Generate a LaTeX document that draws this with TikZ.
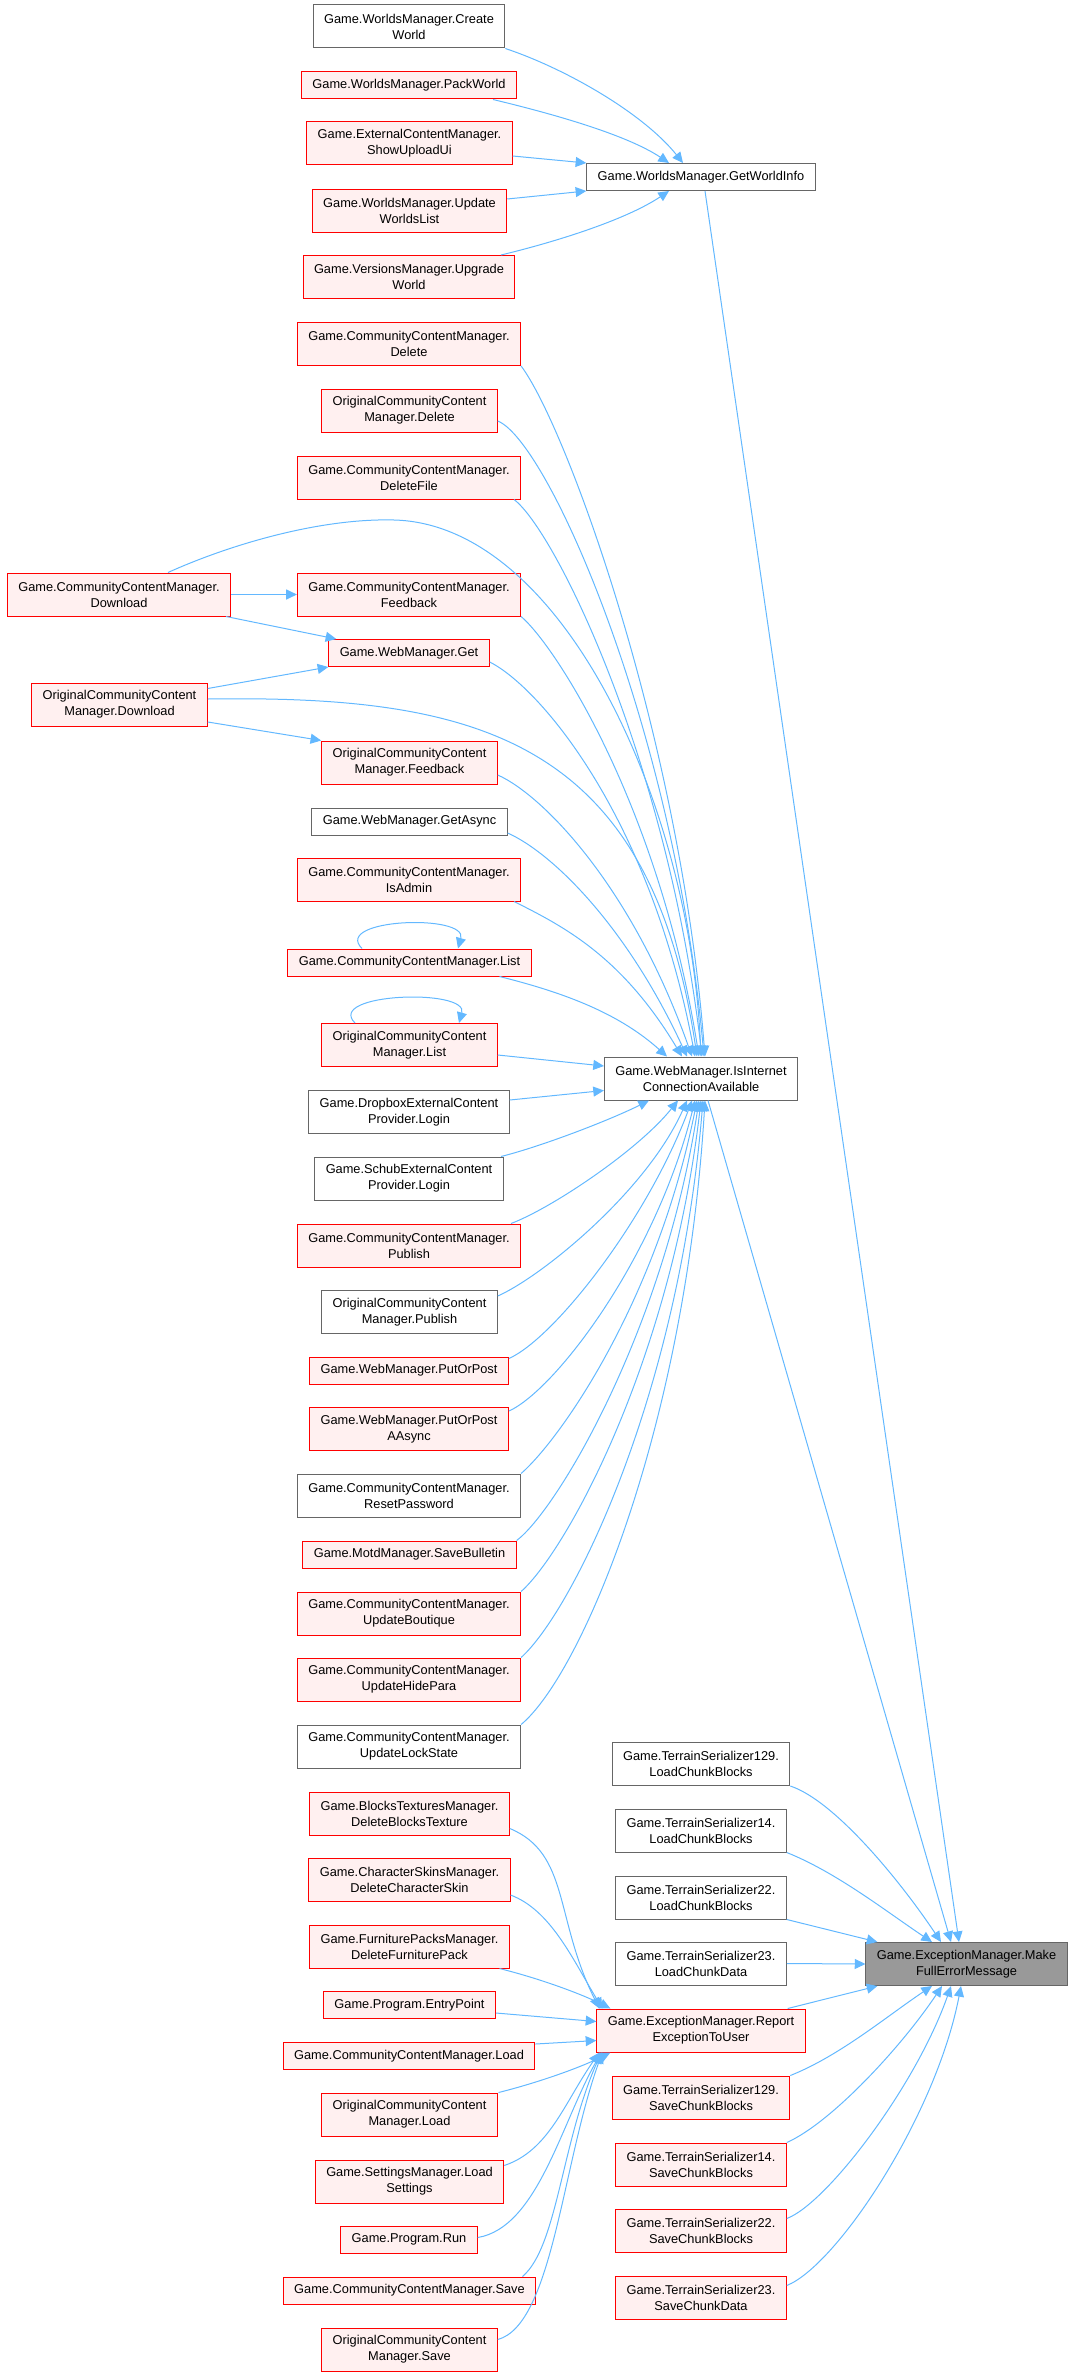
\documentclass[tikz,border=0pt]{standalone}
\usepackage{fontspec}
\setmainfont{Liberation Sans}
\usetikzlibrary{arrows.meta,calc}

\definecolor{edgeblue}{HTML}{63B8FF}
\definecolor{callerfill}{HTML}{FFF0F0}
\definecolor{framegray}{HTML}{666666}
\definecolor{focusgray}{HTML}{999999}

\begin{document}
\begin{tikzpicture}[x=0.75pt,y=-0.75pt,
    fnbox/.style={rectangle,draw,line width=0.75pt,align=center,
      font=\fontsize{9.6}{12}\selectfont,inner xsep=8.2pt,inner ysep=1pt,
      minimum height=20.25pt},
    fnplain/.style={fnbox,draw=framegray,fill=white},
    fnred/.style={fnbox,draw=red,fill=callerfill},
    fnfocus/.style={fnbox,draw=framegray,fill=focusgray},
    twoline/.style={minimum height=32.25pt},
    calls/.style={draw=edgeblue,line width=0.75pt,-{Triangle[length=8pt,width=7.5pt]}}]

    \useasboundingbox (0,0) rectangle (1074,2376);

    % Far left callers
    \node[fnred,twoline] (dl) at (119,594.5) {Game.CommunityContentManager.\\Download};
    \node[fnred,twoline] (odl) at (119.5,704.5) {OriginalCommunityContent\\Manager.Download};

    % Second column
    \node[fnplain,twoline] (cw) at (409,26.5) {Game.WorldsManager.Create\\World};
    \node[fnred] (pw) at (409,85.5) {Game.WorldsManager.PackWorld};
    \node[fnred,twoline] (su) at (409.5,143.5) {Game.ExternalContentManager.\\ShowUploadUi};
    \node[fnred,twoline] (uwl) at (409.5,210.5) {Game.WorldsManager.Update\\WorldsList};
    \node[fnred,twoline] (uw) at (409,277) {Game.VersionsManager.Upgrade\\World};
    \node[fnred,twoline] (del) at (409,344) {Game.CommunityContentManager.\\Delete};
    \node[fnred,twoline] (odel) at (409.5,410.5) {OriginalCommunityContent\\Manager.Delete};
    \node[fnred,twoline] (delf) at (409,477.5) {Game.CommunityContentManager.\\DeleteFile};
    \node[fnred,twoline] (fb) at (409,594.5) {Game.CommunityContentManager.\\Feedback};
    \node[fnred] (get) at (409,653) {Game.WebManager.Get};
    \node[fnred,twoline] (ofb) at (409.5,762.5) {OriginalCommunityContent\\Manager.Feedback};
    \node[fnplain] (ga) at (409.5,821.5) {Game.WebManager.GetAsync};
    \node[fnred,twoline] (adm) at (409,879.5) {Game.CommunityContentManager.\\IsAdmin};
    \node[fnred] (lst) at (409.5,962.5) {Game.CommunityContentManager.List};
    \node[fnred,twoline] (olst) at (409.5,1045) {OriginalCommunityContent\\Manager.List};
    \node[fnplain,twoline] (dbx) at (409,1112) {Game.DropboxExternalContent\\Provider.Login};
    \node[fnplain,twoline] (sch) at (409,1178.5) {Game.SchubExternalContent\\Provider.Login};
    \node[fnred,twoline] (pub) at (409,1245.5) {Game.CommunityContentManager.\\Publish};
    \node[fnplain,twoline] (opub) at (409.5,1312) {OriginalCommunityContent\\Manager.Publish};
    \node[fnred] (pop) at (409,1370.5) {Game.WebManager.PutOrPost};
    \node[fnred,twoline] (popa) at (409,1429) {Game.WebManager.PutOrPost\\AAsync};
    \node[fnplain,twoline] (rpw) at (409,1495.5) {Game.CommunityContentManager.\\ResetPassword};
    \node[fnred] (sb) at (409.5,1554.5) {Game.MotdManager.SaveBulletin};
    \node[fnred,twoline] (ub) at (409,1613.5) {Game.CommunityContentManager.\\UpdateBoutique};
    \node[fnred,twoline] (uhp) at (409,1679.5) {Game.CommunityContentManager.\\UpdateHidePara};
    \node[fnplain,twoline] (uls) at (409,1746.5) {Game.CommunityContentManager.\\UpdateLockState};
    \node[fnred,twoline] (dbt) at (409.5,1813.5) {Game.BlocksTexturesManager.\\DeleteBlocksTexture};
    \node[fnred,twoline] (dcs) at (409.5,1880) {Game.CharacterSkinsManager.\\DeleteCharacterSkin};
    \node[fnred,twoline] (dfp) at (409.5,1946.5) {Game.FurniturePacksManager.\\DeleteFurniturePack};
    \node[fnred] (ep) at (409.5,2005) {Game.Program.EntryPoint};
    \node[fnred] (ld) at (409,2056) {Game.CommunityContentManager.Load};
    \node[fnred,twoline] (old) at (409.5,2114.5) {OriginalCommunityContent\\Manager.Load};
    \node[fnred,twoline] (ls) at (409.5,2181.5) {Game.SettingsManager.Load\\Settings};
    \node[fnred] (run) at (409,2239.5) {Game.Program.Run};
    \node[fnred] (sv) at (409.5,2290.5) {Game.CommunityContentManager.Save};
    \node[fnred,twoline] (osv) at (409.5,2349.5) {OriginalCommunityContent\\Manager.Save};

    % Third column
    \node[fnplain] (gwi) at (701,177) {Game.WorldsManager.GetWorldInfo};
    \node[fnplain,twoline] (iica) at (701,1078.5) {Game.WebManager.IsInternet\\ConnectionAvailable};
    \node[fnplain,twoline] (t129l) at (701,1764) {Game.TerrainSerializer129.\\LoadChunkBlocks};
    \node[fnplain,twoline] (t14l) at (701,1830.5) {Game.TerrainSerializer14.\\LoadChunkBlocks};
    \node[fnplain,twoline] (t22l) at (701,1897.5) {Game.TerrainSerializer22.\\LoadChunkBlocks};
    \node[fnplain,twoline] (t23l) at (701,1963.5) {Game.TerrainSerializer23.\\LoadChunkData};
    \node[fnred,twoline] (rex) at (701,2030.5) {Game.ExceptionManager.Report\\ExceptionToUser};
    \node[fnred,twoline] (t129s) at (701,2097.5) {Game.TerrainSerializer129.\\SaveChunkBlocks};
    \node[fnred,twoline] (t14s) at (701,2164.5) {Game.TerrainSerializer14.\\SaveChunkBlocks};
    \node[fnred,twoline] (t22s) at (701,2230.5) {Game.TerrainSerializer22.\\SaveChunkBlocks};
    \node[fnred,twoline] (t23s) at (701,2297.5) {Game.TerrainSerializer23.\\SaveChunkData};

    % Focus node
    \node[fnfocus,twoline] (mfe) at (966.5,1964) {Game.ExceptionManager.Make\\FullErrorMessage};

    % Callers of GetWorldInfo
    \draw[calls] (cw.south east) .. controls +(60,20) and +(-40,-50) .. ($(gwi.north)+(-18,0)$);
    \draw[calls] ($(pw.south)+(84,0)$) .. controls +(50,12) and +(-45,-30) .. ($(gwi.north)+(-32,0)$);
    \draw[calls] ($(su.east)+(0,12.5)$) -- (gwi.north west);
    \draw[calls] ($(uwl.east)+(0,-11.5)$) -- (gwi.south west);
    \draw[calls] ($(uw.north)+(92,0)$) .. controls +(50,-12) and +(-45,30) .. ($(gwi.south)+(-32,0)$);

    % Download callers
    \draw[calls] (dl.east) -- (fb.west);
    \draw[calls] ($(dl.south)+(107,0)$) -- ($(get.north west)+(8,0)$);
    \draw[calls] ($(odl.east)+(0,-16)$) -- (get.south west);
    \draw[calls] ($(odl.east)+(0,17.5)$) -- (ofb.north west);

    % Recursive calls
    \draw[calls] ($(lst.north)+(-47.5,0)$) .. controls +(-30,-30) and +(10,-35) .. ($(lst.north)+(48.5,0)$);
    \draw[calls] ($(olst.north)+(-54.5,0)$) .. controls +(-30,-30) and +(10,-35) .. ($(olst.north)+(49.5,0)$);

    % Callers of IsInternetConnectionAvailable, from above
    \coordinate (dlpeak) at (394,520);
    \draw[calls] (del.south east) .. controls +(45,60) and +(-25,-320) .. ($(iica.north)+(4,0)$);
    \draw[calls] ($(odel.east)+(0,10.5)$) .. controls +(50,20) and +(-30,-330) .. ($(iica.north)+(3,0)$);
    \draw[calls] ($(delf.south)+(105,0)$) .. controls +(40,30) and +(-35,-300) .. ($(iica.north)+(1,0)$);
    \draw[calls] ($(dl.north)+(49,0)$) .. controls +(62,-28) and +(-74,-2) .. (dlpeak)
      .. controls +(166,4) and +(-11,-257) .. (iica.north);
    \draw[calls] (fb.south east) .. controls +(35,30) and +(-40,-250) .. ($(iica.north)+(-2,0)$);
    \draw[calls] ($(get.east)+(0,9)$) .. controls +(50,25) and +(-45,-240) .. ($(iica.north)+(-6,0)$);
    \draw[calls] ($(odl.east)+(0,-5.5)$) .. controls +(271,-4) and +(-47,-317) .. ($(iica.north)+(-4,0)$);
    \draw[calls] ($(ofb.east)+(0,12.5)$) .. controls +(45,20) and +(-60,-170) .. ($(iica.north)+(-9,0)$);
    \draw[calls] ($(ga.east)+(0,11.5)$) .. controls +(45,20) and +(-60,-130) .. ($(iica.north)+(-14,0)$);
    \draw[calls] ($(adm.south)+(105,0)$) .. controls +(50,25) and +(-60,-100) .. ($(iica.north)+(-19,0)$);
    \draw[calls] ($(lst.south)+(90,0)$) .. controls +(60,15) and +(-50,-45) .. ($(iica.north)+(-34,0)$);
    \draw[calls] ($(olst.east)+(0,10)$) -- ($(iica.west)+(0,-12.5)$);

    % Callers of IsInternetConnectionAvailable, from below
    \draw[calls] ($(dbx.east)+(0,-12)$) -- ($(iica.west)+(0,12)$);
    \draw[calls] ($(sch.north)+(92,0)$) .. controls +(40,-10) and +(-40,20) .. ($(iica.south)+(-52,0)$);
    \draw[calls] ($(pub.north)+(102,0)$) .. controls +(40,-15) and +(-40,50) .. ($(iica.south)+(-23,0)$);
    \draw[calls] ($(opub.east)+(0,-16)$) .. controls +(45,-20) and +(-40,90) .. ($(iica.south)+(-14,0)$);
    \draw[calls] ($(pop.east)+(0,-12)$) .. controls +(45,-20) and +(-45,120) .. ($(iica.south)+(-9,0)$);
    \draw[calls] ($(popa.east)+(0,-18)$) .. controls +(45,-20) and +(-40,160) .. ($(iica.south)+(-6,0)$);
    \draw[calls] (rpw.north east) .. controls +(40,-35) and +(-40,200) .. ($(iica.south)+(-4,0)$);
    \draw[calls] (sb.north east) .. controls +(40,-30) and +(-35,230) .. ($(iica.south)+(-2,0)$);
    \draw[calls] (ub.north east) .. controls +(45,-40) and +(-30,260) .. (iica.south);
    \draw[calls] (uhp.north east) .. controls +(50,-45) and +(-25,300) .. ($(iica.south)+(2,0)$);
    \draw[calls] (uls.north east) .. controls +(60,-50) and +(-20,330) .. ($(iica.south)+(4,0)$);

    % Callers of ReportExceptionToUser
    \draw[calls] ($(dbt.east)+(0,15)$) .. controls +(60,25) and +(-45,-90) .. ($(rex.north west)+(3,0)$);
    \draw[calls] ($(dcs.east)+(0,15)$) .. controls +(40,15) and +(-30,-50) .. ($(rex.north west)+(6,0)$);
    \draw[calls] ($(dfp.south)+(90,0)$) .. controls +(40,10) and +(-30,-15) .. ($(rex.north west)+(14,0)$);
    \draw[calls] ($(ep.east)+(0,8)$) -- ($(rex.west)+(0,-9)$);
    \draw[calls] ($(ld.east)+(0,-12)$) -- ($(rex.west)+(0,10)$);
    \draw[calls] ($(old.north)+(89,0)$) .. controls +(40,-10) and +(-30,15) .. ($(rex.south west)+(14,0)$);
    \draw[calls] ($(ls.east)+(0,-16)$) .. controls +(45,-15) and +(-35,50) .. ($(rex.south west)+(3,0)$);
    \draw[calls] ($(run.east)+(0,-2)$) .. controls +(60,-10) and +(-40,70) .. ($(rex.south west)+(5,0)$);
    \draw[calls] ($(sv.north)+(113,0)$) .. controls +(35,-30) and +(-40,90) .. ($(rex.south west)+(5,0)$);
    \draw[calls] ($(osv.east)+(0,-10)$) .. controls +(55,-15) and +(-40,110) .. ($(rex.south west)+(6,0)$);

    % Callers of MakeFullErrorMessage
    \draw[calls] ($(gwi.south)+(4,0)$) -- ($(mfe.north)+(-7.5,0)$);
    \draw[calls] ($(iica.south)+(7,0)$) -- ($(mfe.north)+(-15.5,0)$);
    \draw[calls] (t129l.south east) .. controls +(45,15) and +(-40,-60) .. ($(mfe.north)+(-25.5,0)$);
    \draw[calls] (t14l.south east) .. controls +(50,20) and +(-45,-30) .. ($(mfe.north)+(-34.5,0)$);
    \draw[calls] (t22l.south east) -- ($(mfe.north west)+(12,0)$);
    \draw[calls] (t23l.east) -- (mfe.west);
    \draw[calls] ($(rex.north east)+(-18,0)$) -- ($(mfe.south west)+(12,0)$);
    \draw[calls] (t129s.north east) .. controls +(50,-20) and +(-45,30) .. ($(mfe.south)+(-34.5,0)$);
    \draw[calls] (t14s.north east) .. controls +(45,-20) and +(-40,60) .. ($(mfe.south)+(-24.5,0)$);
    \draw[calls] ($(t22s.east)+(0,-12)$) .. controls +(40,-15) and +(-35,100) .. ($(mfe.south)+(-15.5,0)$);
    \draw[calls] ($(t23s.east)+(0,-12)$) .. controls +(50,-20) and +(-25,130) .. ($(mfe.south)+(-5.5,0)$);
  \end{tikzpicture}
\end{document}
